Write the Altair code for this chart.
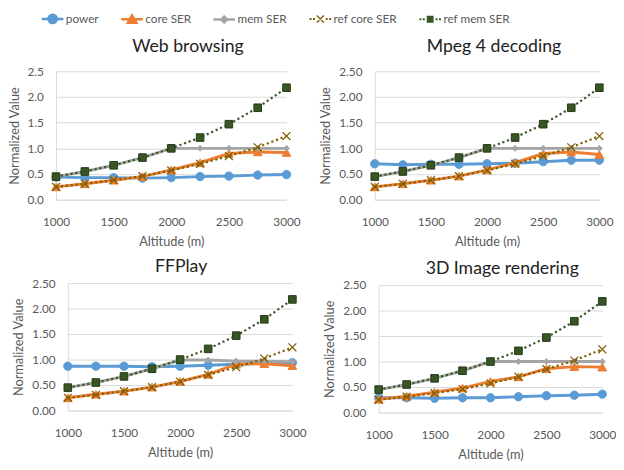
import altair as alt
import pandas as pd

altitudes = [1000, 1250, 1500, 1750, 2000, 2250, 2500, 2750, 3000]
series_names = ["power", "core SER", "mem SER", "ref core SER", "ref mem SER"]
panel_titles = ["Web browsing", "Mpeg 4 decoding", "FFPlay", "3D Image rendering"]

ref_core = [0.25, 0.31, 0.38, 0.46, 0.57, 0.70, 0.85, 1.02, 1.24]
ref_mem = [0.45, 0.55, 0.67, 0.82, 1.00, 1.21, 1.47, 1.79, 2.18]

web_power = [0.44, 0.43, 0.43, 0.42, 0.43, 0.45, 0.46, 0.48, 0.49]
web_core = [0.25, 0.31, 0.38, 0.45, 0.58, 0.72, 0.90, 0.93, 0.92]
web_mem = [0.45, 0.55, 0.67, 0.82, 1.00, 1.00, 1.00, 1.00, 1.00]

mpeg_power = [0.70, 0.68, 0.69, 0.69, 0.70, 0.71, 0.74, 0.77, 0.77]
mpeg_core = [0.25, 0.31, 0.38, 0.46, 0.58, 0.72, 0.90, 0.93, 0.88]
mpeg_mem = [0.45, 0.55, 0.67, 0.82, 1.00, 1.00, 1.00, 1.00, 1.00]

ff_power = [0.87, 0.87, 0.87, 0.86, 0.87, 0.89, 0.91, 0.93, 0.94]
ff_core = [0.25, 0.32, 0.38, 0.46, 0.57, 0.71, 0.91, 0.92, 0.88]
ff_mem = [0.45, 0.55, 0.67, 0.82, 0.99, 0.99, 0.97, 0.97, 0.96]

r3d_power = [0.29, 0.29, 0.28, 0.29, 0.29, 0.31, 0.33, 0.34, 0.36]
r3d_core = [0.26, 0.32, 0.40, 0.48, 0.61, 0.70, 0.86, 0.90, 0.89]
r3d_mem = [0.45, 0.55, 0.67, 0.82, 1.00, 1.00, 1.00, 1.00, 1.00]

FONT = "Lato"
TXT = "#595959"
GRID = "#D9D9D9"

colors = ["#5B9BD5", "#ED7D31", "#A5A5A5", "#7F6000", "#375623"]
line_width = [3, 3, 3, 2.2, 2.2]
dashes = [None, None, None, [2.2, 2.8], [2.2, 2.8]]

# marker definitions for chart points
X_PATH = "M-1,-1L1,1M-1,1L1,-1"
markers = [
    dict(shape="circle", filled=True, size=72),
    dict(shape="triangle-up", filled=True, size=80),
    dict(shape="diamond", filled=True, size=36),
    dict(shape=X_PATH, filled=False, size=64, strokeWidth=1.3),
    dict(shape="square", filled=True, size=60, stroke="#26391a", strokeWidth=1),
]

# legend symbols (line + marker), unit coordinates (1 unit = 5 px)
def _x_poly(a, t):
    u = t / 1.4142
    r1 = f"M{-a+u},{-a-u}L{a+u},{a-u}L{a-u},{a+u}L{-a-u},{-a+u}Z"
    r2 = f"M{a-u},{-a-u}L{a+u},{-a+u}L{-a+u},{a+u}L{-a-u},{a-u}Z"
    return r1 + r2

def _dots(xs, s=0.2):
    return "".join(f"M{x-s},{-s}H{x+s}V{s}H{x-s}Z" for x in xs)

dot_xs = [-2.0, -1.3, 1.3, 2.0]
legend_shapes = [
    "M-2.2,0H2.2M0.85,0A0.85,0.85,0,1,1,-0.85,0A0.85,0.85,0,1,1,0.85,0Z",
    "M-2.2,0H2.2M0,-0.8L0.87,0.7L-0.87,0.7Z",
    "M-2.2,0H2.2M0,-0.6L0.6,0L0,0.6L-0.6,0Z",
    _dots(dot_xs) + _x_poly(0.72, 0.14),
    _dots(dot_xs) + "M-0.7,-0.7H0.7V0.7H-0.7Z",
]
legend_strokes = [colors[0], colors[1], colors[2], "transparent", "transparent"]


def make_df(power, core, mem):
    rows = []
    for vals, name in zip([power, core, mem, ref_core, ref_mem], series_names):
        for a, v in zip(altitudes, vals):
            rows.append({"alt": a, "value": v, "series": name})
    return pd.DataFrame(rows)


def panel(title, df, yfmt, w, h, title_dx, title_off=10, shift=0, top=0, legend=False):
    # shift / top: blank margin inside the cell so panels sit like the original
    x = alt.X(
        "alt:Q",
        scale=alt.Scale(domain=[1000, 3000], nice=False, zero=False, range=[shift, shift + w]),
        axis=alt.Axis(
            values=[1000, 1500, 2000, 2500, 3000], format="d", labelFlush=False,
            title="Altitude (m)", grid=False, ticks=False, domainColor=GRID,
            domainWidth=1, labelPadding=17, titlePadding=9,
            labelFont=FONT, labelFontSize=12, labelColor=TXT,
            titleFont=FONT, titleFontSize=13, titleFontWeight="normal", titleColor=TXT,
        ),
    )
    y = alt.Y(
        "value:Q",
        scale=alt.Scale(domain=[0, 2.5], nice=False, range=[top + h, top]),
        axis=alt.Axis(
            values=[0, 0.5, 1.0, 1.5, 2.0, 2.5], format=yfmt, ticks=False,
            domainColor=GRID, gridColor=GRID, gridWidth=1, labelPadding=13,
            title="Normalized Value", titlePadding=6, offset=-shift,
            labelFont=FONT, labelFontSize=12, labelColor=TXT,
            titleFont=FONT, titleFontSize=13, titleFontWeight="normal", titleColor=TXT,
        ),
    )
    base = alt.Chart(df)
    layers = []
    for i, s in enumerate(series_names):
        sub = base.transform_filter(alt.datum.series == s)
        lkw = dict(color=colors[i], strokeWidth=line_width[i])
        if dashes[i] is not None:
            lkw["strokeDash"] = dashes[i]
        layers.append(sub.mark_line(**lkw).encode(x=x, y=y))
        m = dict(markers[i])
        pkw = dict(shape=m["shape"], filled=m["filled"], size=m["size"], opacity=1)
        if m["filled"]:
            pkw["fill"] = colors[i]
            pkw["stroke"] = m.get("stroke", colors[i])
            pkw["strokeWidth"] = m.get("strokeWidth", 1)
        else:
            pkw["stroke"] = colors[i]
            pkw["strokeWidth"] = m["strokeWidth"]
        layers.append(sub.mark_point(**pkw).encode(x=x, y=y))
    if legend:
        leg = alt.Legend(
            orient="none", legendX=-10, legendY=-60, direction="horizontal", columns=5,
            title=None, symbolSize=100, symbolStrokeWidth=2.5, labelFont=FONT,
            labelFontSize=12, labelColor=TXT, labelOffset=7, columnPadding=17,
            padding=0,
        )
        lay = base.transform_filter("false").mark_point(filled=True, opacity=1).encode(
            fill=alt.Fill("series:N", scale=alt.Scale(domain=series_names, range=colors), legend=leg),
            stroke=alt.Stroke("series:N", scale=alt.Scale(domain=series_names, range=legend_strokes), legend=leg),
            shape=alt.Shape("series:N", scale=alt.Scale(domain=series_names, range=legend_shapes), legend=leg),
        )
        layers.append(lay)
    return alt.layer(*layers).properties(
        width=w + shift, height=h + top,
        title=alt.TitleParams(text=title, font=FONT, fontSize=18, fontWeight="normal",
                              color="#222222", dx=title_dx, offset=title_off),
    )


p1 = panel(panel_titles[0], make_df(web_power, web_core, web_mem), ".1f", 235, 131, 17, legend=True)
p2 = panel(panel_titles[1], make_df(mpeg_power, mpeg_core, mpeg_mem), ".2f", 229, 131, 7)
p3 = panel(panel_titles[2], make_df(ff_power, ff_core, ff_mem), ".2f", 229, 130, 7, title_off=1, shift=12)
p4 = panel(panel_titles[3], make_df(r3d_power, r3d_core, r3d_mem), ".2f", 228, 130, 14, title_off=1, shift=4, top=2)

chart = alt.concat(p1, p2, p3, p4, columns=2, align="all", bounds="flush",
                   spacing=alt.RowColnumber(row=84, column=84))
chart = chart.properties(padding=0).configure_view(stroke=None)

chart.save("out.html", embed_options={"renderer": "svg", "actions": False})
